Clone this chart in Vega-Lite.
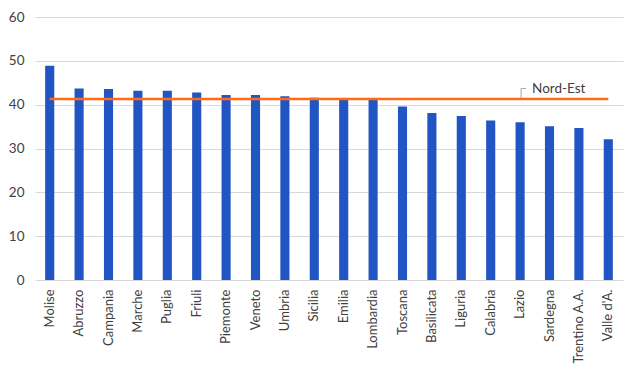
{
  "$schema": "https://vega.github.io/schema/vega-lite/v6.json",
  "autosize": "none",
  "width": 588,
  "height": 263,
  "padding": {"left": 35, "top": 17, "right": 18, "bottom": 90},
  "background": "white",
  "config": {
    "view": {"stroke": null},
    "font": "Lato",
    "axisY": {
      "title": null, "labelFontSize": 13.5, "labelColor": "#404040", "labelPadding": 11,
      "ticks": false, "domain": false, "gridColor": "#d9d9d9", "gridWidth": 1, "labelOverlap": false
    }
  },
  "data": {"values": [
    {"regione": "Molise", "valore": 48.9, "nordest": 41.3},
    {"regione": "Abruzzo", "valore": 43.7, "nordest": 41.3},
    {"regione": "Campania", "valore": 43.6, "nordest": 41.3},
    {"regione": "Marche", "valore": 43.2, "nordest": 41.3},
    {"regione": "Puglia", "valore": 43.2, "nordest": 41.3},
    {"regione": "Friuli", "valore": 42.8, "nordest": 41.3},
    {"regione": "Piemonte", "valore": 42.2, "nordest": 41.3},
    {"regione": "Veneto", "valore": 42.2, "nordest": 41.3},
    {"regione": "Umbria", "valore": 41.9, "nordest": 41.3},
    {"regione": "Sicilia", "valore": 41.6, "nordest": 41.3},
    {"regione": "Emilia", "valore": 41.1, "nordest": 41.3},
    {"regione": "Lombardia", "valore": 41.1, "nordest": 41.3},
    {"regione": "Toscana", "valore": 39.6, "nordest": 41.3},
    {"regione": "Basilicata", "valore": 38.1, "nordest": 41.3},
    {"regione": "Liguria", "valore": 37.4, "nordest": 41.3},
    {"regione": "Calabria", "valore": 36.4, "nordest": 41.3},
    {"regione": "Lazio", "valore": 36.0, "nordest": 41.3},
    {"regione": "Sardegna", "valore": 35.1, "nordest": 41.3},
    {"regione": "Trentino A.A.", "valore": 34.7, "nordest": 41.3},
    {"regione": "Valle d'A.", "valore": 32.1, "nordest": 41.3}
  ]},
  "encoding": {
    "x": {
      "field": "regione", "type": "nominal", "sort": null,
      "scale": {"paddingInner": 0.69, "paddingOuter": 0.345},
      "axis": {
        "title": null, "labelAngle": -90, "labelAlign": "right", "labelBaseline": "middle",
        "labelFontSize": 13, "labelColor": "#404040", "labelPadding": 9,
        "ticks": false, "domain": false, "grid": false
      }
    }
  },
  "layer": [
    {
      "mark": {"type": "bar", "color": "#2155C4"},
      "encoding": {
        "y": {
          "field": "valore", "type": "quantitative",
          "scale": {"domain": [0, 60]},
          "axis": {"values": [0, 10, 20, 30, 40, 50, 60]}
        }
      }
    },
    {
      "mark": {"type": "line", "color": "#FF6A13", "strokeWidth": 2.5},
      "encoding": {
        "y": {"field": "nordest", "type": "quantitative", "axis": {"values": [0, 10, 20, 30, 40, 50, 60]}}
      }
    },
    {
      "transform": [{"filter": "datum.regione === 'Lazio'"}],
      "mark": {"type": "rule", "color": "#a6a6a6", "strokeWidth": 1, "xOffset": 1},
      "encoding": {
        "y": {"datum": 41.4, "axis": {"values": [0, 10, 20, 30, 40, 50, 60]}},
        "y2": {"datum": 43.7}
      }
    },
    {
      "transform": [{"filter": "datum.regione === 'Lazio'"}],
      "mark": {"type": "rule", "color": "#a6a6a6", "strokeWidth": 1, "xOffset": 1, "x2Offset": 6},
      "encoding": {
        "x2": {"field": "regione"},
        "y": {"datum": 43.7, "axis": {"values": [0, 10, 20, 30, 40, 50, 60]}}
      }
    },
    {
      "transform": [{"filter": "datum.regione === 'Lazio'"}],
      "mark": {"type": "text", "align": "left", "baseline": "middle", "dx": 12, "dy": -10, "fontSize": 13.5, "color": "#404040", "font": "Lato"},
      "encoding": {
        "y": {"field": "nordest", "type": "quantitative", "axis": {"values": [0, 10, 20, 30, 40, 50, 60]}},
        "text": {"value": "Nord-Est"}
      }
    }
  ]
}
